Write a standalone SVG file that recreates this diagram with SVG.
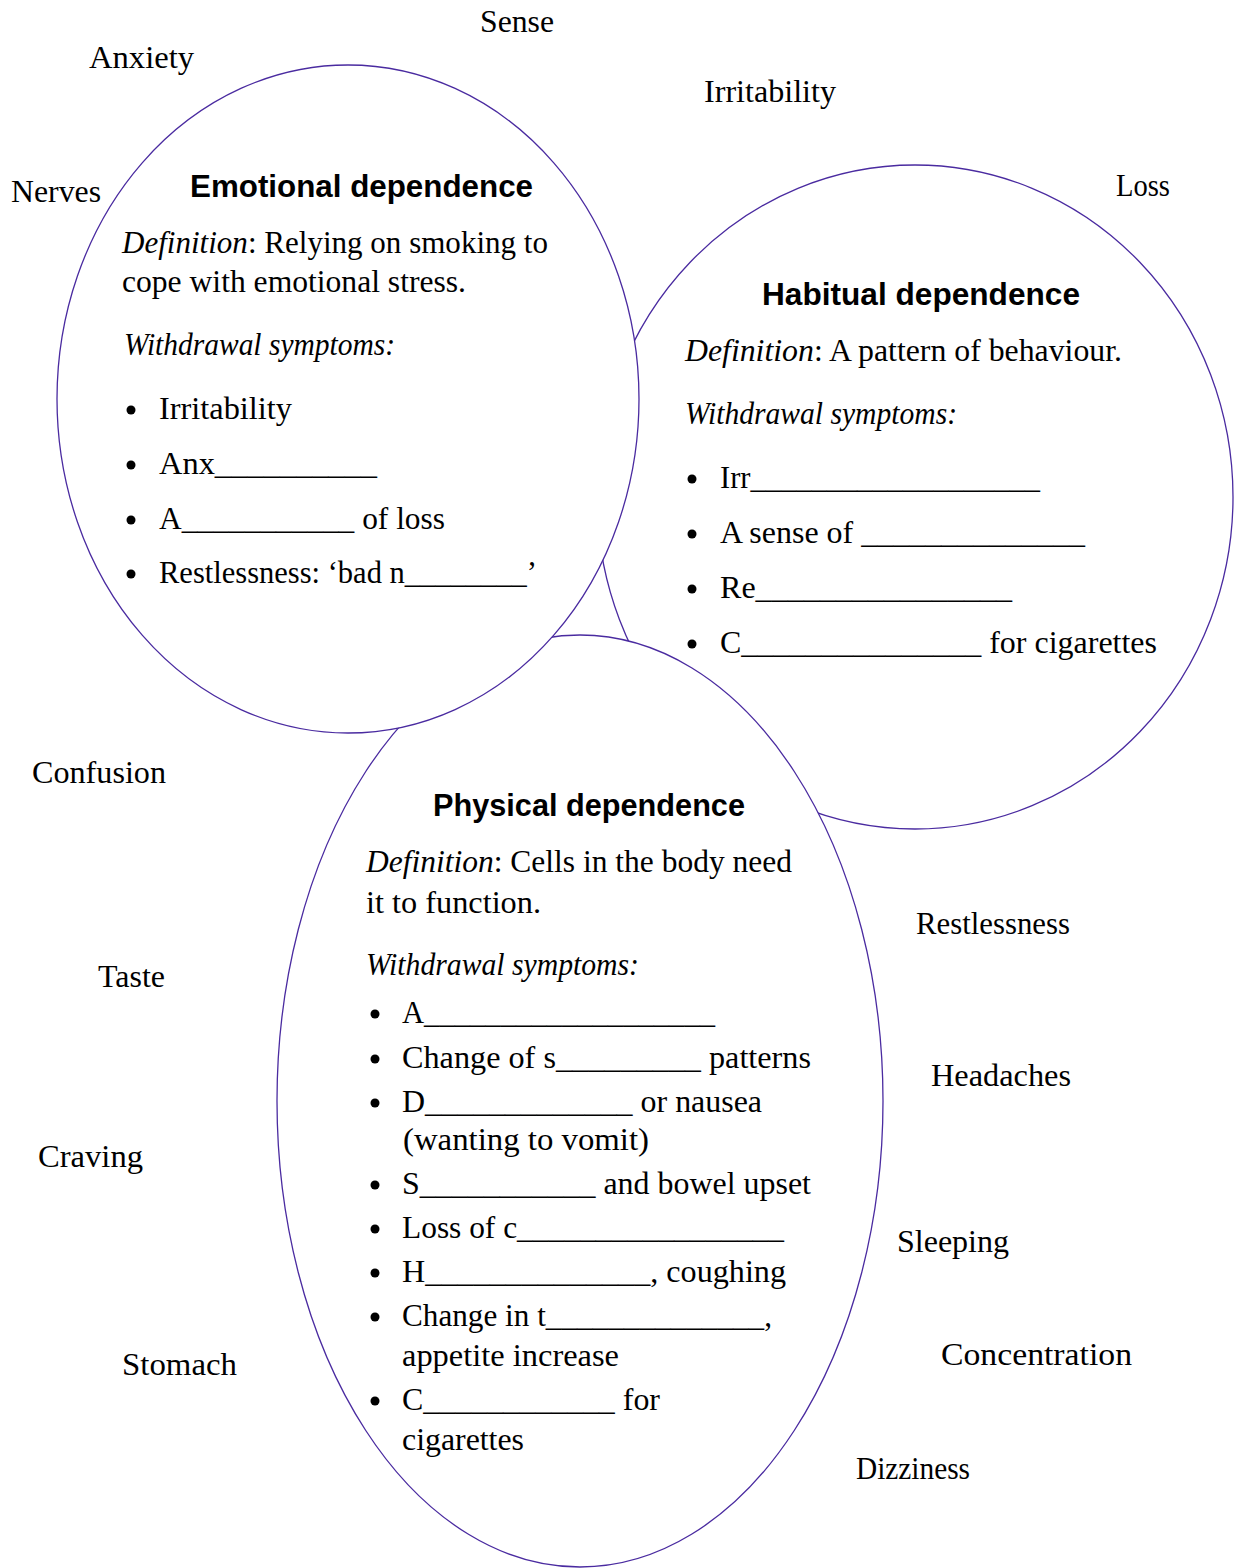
<svg xmlns="http://www.w3.org/2000/svg" width="1234" height="1568" viewBox="0 0 1234 1568">
<style>
.bg{fill:#fff}
.ring{fill:#fff;stroke:#4a2ba0;stroke-width:1.3}
.t{font-family:"Liberation Serif","Times New Roman",serif;font-size:31px;fill:#000}
.it{font-style:italic}
.h{font-family:"Liberation Sans",Arial,sans-serif;font-weight:bold;font-size:31px;fill:#000}
.dot{fill:#000}
</style>
<rect class="bg" x="0" y="0" width="1234" height="1568"/>

<g id="habitual">
<ellipse class="ring" cx="915" cy="497" rx="318" ry="332"/>
<text class="h" x="762" y="305" textLength="318" lengthAdjust="spacingAndGlyphs">Habitual dependence</text>
<text class="t" x="685" y="361" textLength="437" lengthAdjust="spacingAndGlyphs"><tspan class="it">Definition</tspan>: A pattern of behaviour.</text>
<text class="t it" x="685" y="424" textLength="272" lengthAdjust="spacingAndGlyphs">Withdrawal symptoms:</text>
<circle class="dot" cx="692" cy="479" r="4.5"/>
<circle class="dot" cx="692" cy="534" r="4.5"/>
<circle class="dot" cx="692" cy="589" r="4.5"/>
<circle class="dot" cx="692" cy="644" r="4.5"/>
<text class="t" x="720" y="488" textLength="320" lengthAdjust="spacingAndGlyphs">Irr___________________</text>
<text class="t" x="720" y="543" textLength="365" lengthAdjust="spacingAndGlyphs">A sense of ______________</text>
<text class="t" x="720" y="598" textLength="292" lengthAdjust="spacingAndGlyphs">Re________________</text>
<text class="t" x="720" y="653" textLength="437" lengthAdjust="spacingAndGlyphs">C_______________ for cigarettes</text>
</g>

<g id="physical">
<ellipse class="ring" cx="580" cy="1101" rx="303" ry="466"/>
<text class="h" x="433" y="816" textLength="312" lengthAdjust="spacingAndGlyphs">Physical dependence</text>
<text class="t" x="366" y="872" textLength="426" lengthAdjust="spacingAndGlyphs"><tspan class="it">Definition</tspan>: Cells in the body need</text>
<text class="t" x="366" y="913" textLength="175" lengthAdjust="spacingAndGlyphs">it to function.</text>
<text class="t it" x="366" y="975" textLength="273" lengthAdjust="spacingAndGlyphs">Withdrawal symptoms:</text>
<circle class="dot" cx="375" cy="1014" r="4.5"/>
<circle class="dot" cx="375" cy="1059" r="4.5"/>
<circle class="dot" cx="375" cy="1103" r="4.5"/>
<circle class="dot" cx="375" cy="1185" r="4.5"/>
<circle class="dot" cx="375" cy="1229" r="4.5"/>
<circle class="dot" cx="375" cy="1273" r="4.5"/>
<circle class="dot" cx="375" cy="1317" r="4.5"/>
<circle class="dot" cx="375" cy="1401" r="4.5"/>
<text class="t" x="402" y="1023" textLength="313" lengthAdjust="spacingAndGlyphs">A___________________</text>
<text class="t" x="402" y="1068" textLength="409" lengthAdjust="spacingAndGlyphs">Change of s_________ patterns</text>
<text class="t" x="402" y="1112" textLength="360" lengthAdjust="spacingAndGlyphs">D_____________ or nausea</text>
<text class="t" x="403" y="1150" textLength="246" lengthAdjust="spacingAndGlyphs">(wanting to vomit)</text>
<text class="t" x="402" y="1194" textLength="409" lengthAdjust="spacingAndGlyphs">S___________ and bowel upset</text>
<text class="t" x="402" y="1238" textLength="382" lengthAdjust="spacingAndGlyphs">Loss of c_________________</text>
<text class="t" x="402" y="1282" textLength="384" lengthAdjust="spacingAndGlyphs">H______________, coughing</text>
<text class="t" x="402" y="1326" textLength="370" lengthAdjust="spacingAndGlyphs">Change in t______________,</text>
<text class="t" x="402" y="1366" textLength="217" lengthAdjust="spacingAndGlyphs">appetite increase</text>
<text class="t" x="402" y="1410" textLength="258" lengthAdjust="spacingAndGlyphs">C____________ for</text>
<text class="t" x="402" y="1450" textLength="122" lengthAdjust="spacingAndGlyphs">cigarettes</text>
</g>

<g id="emotional">
<ellipse class="ring" cx="348" cy="399" rx="291" ry="334"/>
<text class="h" x="190" y="197" textLength="343" lengthAdjust="spacingAndGlyphs">Emotional dependence</text>
<text class="t" x="122" y="253" textLength="426" lengthAdjust="spacingAndGlyphs"><tspan class="it">Definition</tspan>: Relying on smoking to</text>
<text class="t" x="122" y="292" textLength="344" lengthAdjust="spacingAndGlyphs">cope with emotional stress.</text>
<text class="t it" x="124" y="355" textLength="271" lengthAdjust="spacingAndGlyphs">Withdrawal symptoms:</text>
<circle class="dot" cx="131" cy="410" r="4.5"/>
<circle class="dot" cx="131" cy="465" r="4.5"/>
<circle class="dot" cx="131" cy="520" r="4.5"/>
<circle class="dot" cx="131" cy="574" r="4.5"/>
<text class="t" x="159" y="419" textLength="133" lengthAdjust="spacingAndGlyphs">Irritability</text>
<text class="t" x="159" y="474" textLength="218" lengthAdjust="spacingAndGlyphs">Anx__________</text>
<text class="t" x="159" y="529" textLength="286" lengthAdjust="spacingAndGlyphs">A___________ of loss</text>
<text class="t" x="159" y="583" textLength="378" lengthAdjust="spacingAndGlyphs">Restlessness: ‘bad n________’</text>
</g>

<g id="word-bank">
<text class="t" x="480" y="32" textLength="74" lengthAdjust="spacingAndGlyphs">Sense</text>
<text class="t" x="89" y="68" textLength="105" lengthAdjust="spacingAndGlyphs">Anxiety</text>
<text class="t" x="704" y="102" textLength="132" lengthAdjust="spacingAndGlyphs">Irritability</text>
<text class="t" x="11" y="202" textLength="90" lengthAdjust="spacingAndGlyphs">Nerves</text>
<text class="t" x="1116" y="196" textLength="54" lengthAdjust="spacingAndGlyphs">Loss</text>
<text class="t" x="32" y="783" textLength="134" lengthAdjust="spacingAndGlyphs">Confusion</text>
<text class="t" x="916" y="934" textLength="154" lengthAdjust="spacingAndGlyphs">Restlessness</text>
<text class="t" x="98" y="987" textLength="67" lengthAdjust="spacingAndGlyphs">Taste</text>
<text class="t" x="931" y="1086" textLength="140" lengthAdjust="spacingAndGlyphs">Headaches</text>
<text class="t" x="38" y="1167" textLength="105" lengthAdjust="spacingAndGlyphs">Craving</text>
<text class="t" x="897" y="1252" textLength="112" lengthAdjust="spacingAndGlyphs">Sleeping</text>
<text class="t" x="941" y="1365" textLength="191" lengthAdjust="spacingAndGlyphs">Concentration</text>
<text class="t" x="122" y="1375" textLength="115" lengthAdjust="spacingAndGlyphs">Stomach</text>
<text class="t" x="856" y="1479" textLength="114" lengthAdjust="spacingAndGlyphs">Dizziness</text>
</g>
</svg>
